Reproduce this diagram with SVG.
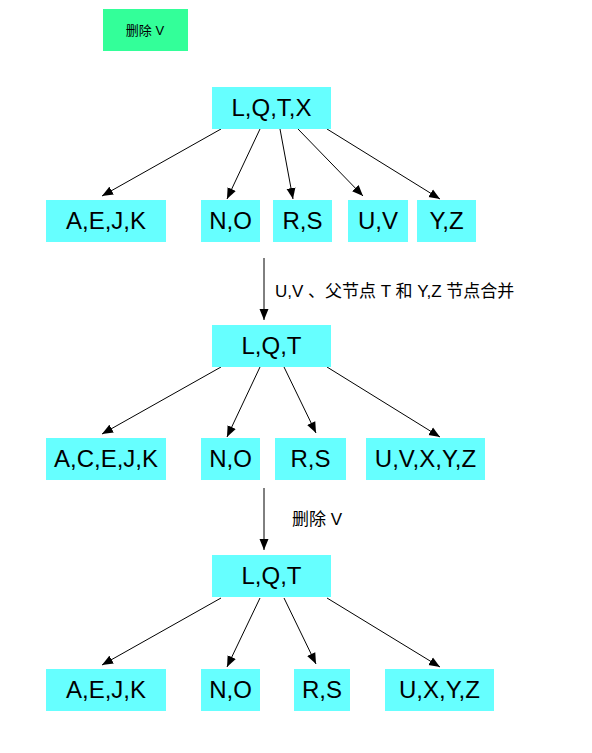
<svg xmlns="http://www.w3.org/2000/svg" width="592" height="753" viewBox="0 0 592 753">
<style>
.n{fill:#66ffff;stroke:#66ffff;stroke-width:1}
.g{fill:#33ff99;stroke:#33ff99;stroke-width:1}
.t{font-family:"Liberation Sans","Noto Sans CJK SC",sans-serif;font-size:24px;text-anchor:middle;dominant-baseline:central;fill:#000}
.s{font-family:"Liberation Sans","Noto Sans CJK SC",sans-serif;font-size:17px;fill:#000;dominant-baseline:central}
.e{stroke:#000;stroke-width:1;fill:none;marker-end:url(#ah)}
</style>
<defs>
<marker id="ah" markerUnits="userSpaceOnUse" markerWidth="12" markerHeight="10" refX="11" refY="5" orient="auto">
<path d="M0,0.5 L11,5 L0,9.5 Z" fill="#000"/>
</marker>
</defs>
<rect width="592" height="753" fill="#fff"/>
<g id="note">
<rect class="g" x="103.5" y="9.5" width="84" height="41"/>
<text x="145" y="30" class="s" style="font-size:13px;text-anchor:middle">删除 V</text>
</g>
<g id="edges">
<line class="e" x1="221" y1="129" x2="102" y2="196"/>
<line class="e" x1="260" y1="129" x2="227" y2="199"/>
<line class="e" x1="280" y1="129" x2="293" y2="199"/>
<line class="e" x1="298" y1="129" x2="363" y2="196"/>
<line class="e" x1="327" y1="129" x2="440" y2="199"/>
<line class="e" x1="264" y1="258" x2="264" y2="320"/>
<line class="e" x1="221" y1="367" x2="102" y2="434"/>
<line class="e" x1="260" y1="367" x2="227" y2="437"/>
<line class="e" x1="284" y1="367" x2="316" y2="433"/>
<line class="e" x1="327" y1="367" x2="440" y2="437"/>
<line class="e" x1="264" y1="488" x2="264" y2="550"/>
<line class="e" x1="221" y1="598" x2="102" y2="665"/>
<line class="e" x1="260" y1="598" x2="227" y2="667"/>
<line class="e" x1="284" y1="598" x2="316" y2="664"/>
<line class="e" x1="327" y1="598" x2="440" y2="667"/>
</g>
<g id="labels">
<text x="275" y="291" class="s">U,V 、父节点 T 和 Y,Z 节点合并</text>
<text x="292" y="519" class="s">删除 V</text>
</g>
<g id="r1"><rect class="n" x="212.5" y="87.5" width="118" height="41"/><text class="t" x="271.5" y="107">L,Q,T,X</text></g>
<g id="a1"><rect class="n" x="46.5" y="200.5" width="119" height="41"/><text class="t" x="106" y="220.5">A,E,J,K</text></g>
<g id="b1"><rect class="n" x="201.5" y="200.5" width="58" height="41"/><text class="t" x="230.5" y="220.5">N,O</text></g>
<g id="c1"><rect class="n" x="273.5" y="200.5" width="58" height="41"/><text class="t" x="302.5" y="220.5">R,S</text></g>
<g id="d1"><rect class="n" x="348.5" y="200.5" width="59" height="41"/><text class="t" x="378" y="220.5">U,V</text></g>
<g id="e1"><rect class="n" x="417.5" y="200.5" width="58" height="41"/><text class="t" x="446.5" y="220.5">Y,Z</text></g>
<g id="r2"><rect class="n" x="212.5" y="325.5" width="118" height="41"/><text class="t" x="271.5" y="345.5">L,Q,T</text></g>
<g id="a2"><rect class="n" x="46.5" y="438.5" width="119" height="41"/><text class="t" x="106" y="458.5">A,C,E,J,K</text></g>
<g id="b2"><rect class="n" x="201.5" y="438.5" width="58" height="41"/><text class="t" x="230.5" y="458.5">N,O</text></g>
<g id="c2"><rect class="n" x="275.5" y="438.5" width="70" height="41"/><text class="t" x="310.5" y="458.5">R,S</text></g>
<g id="d2"><rect class="n" x="366.5" y="438.5" width="118" height="41"/><text class="t" x="425.5" y="458.5">U,V,X,Y,Z</text></g>
<g id="r3"><rect class="n" x="212.5" y="555.5" width="118" height="41"/><text class="t" x="271.5" y="575.5">L,Q,T</text></g>
<g id="a3"><rect class="n" x="46.5" y="669.5" width="119" height="41"/><text class="t" x="106" y="689.5">A,E,J,K</text></g>
<g id="b3"><rect class="n" x="201.5" y="669.5" width="58" height="41"/><text class="t" x="230.5" y="689.5">N,O</text></g>
<g id="c3"><rect class="n" x="294.5" y="669.5" width="55" height="41"/><text class="t" x="322" y="689.5">R,S</text></g>
<g id="d3"><rect class="n" x="385.5" y="669.5" width="108" height="41"/><text class="t" x="439.5" y="689.5">U,X,Y,Z</text></g>
</svg>
